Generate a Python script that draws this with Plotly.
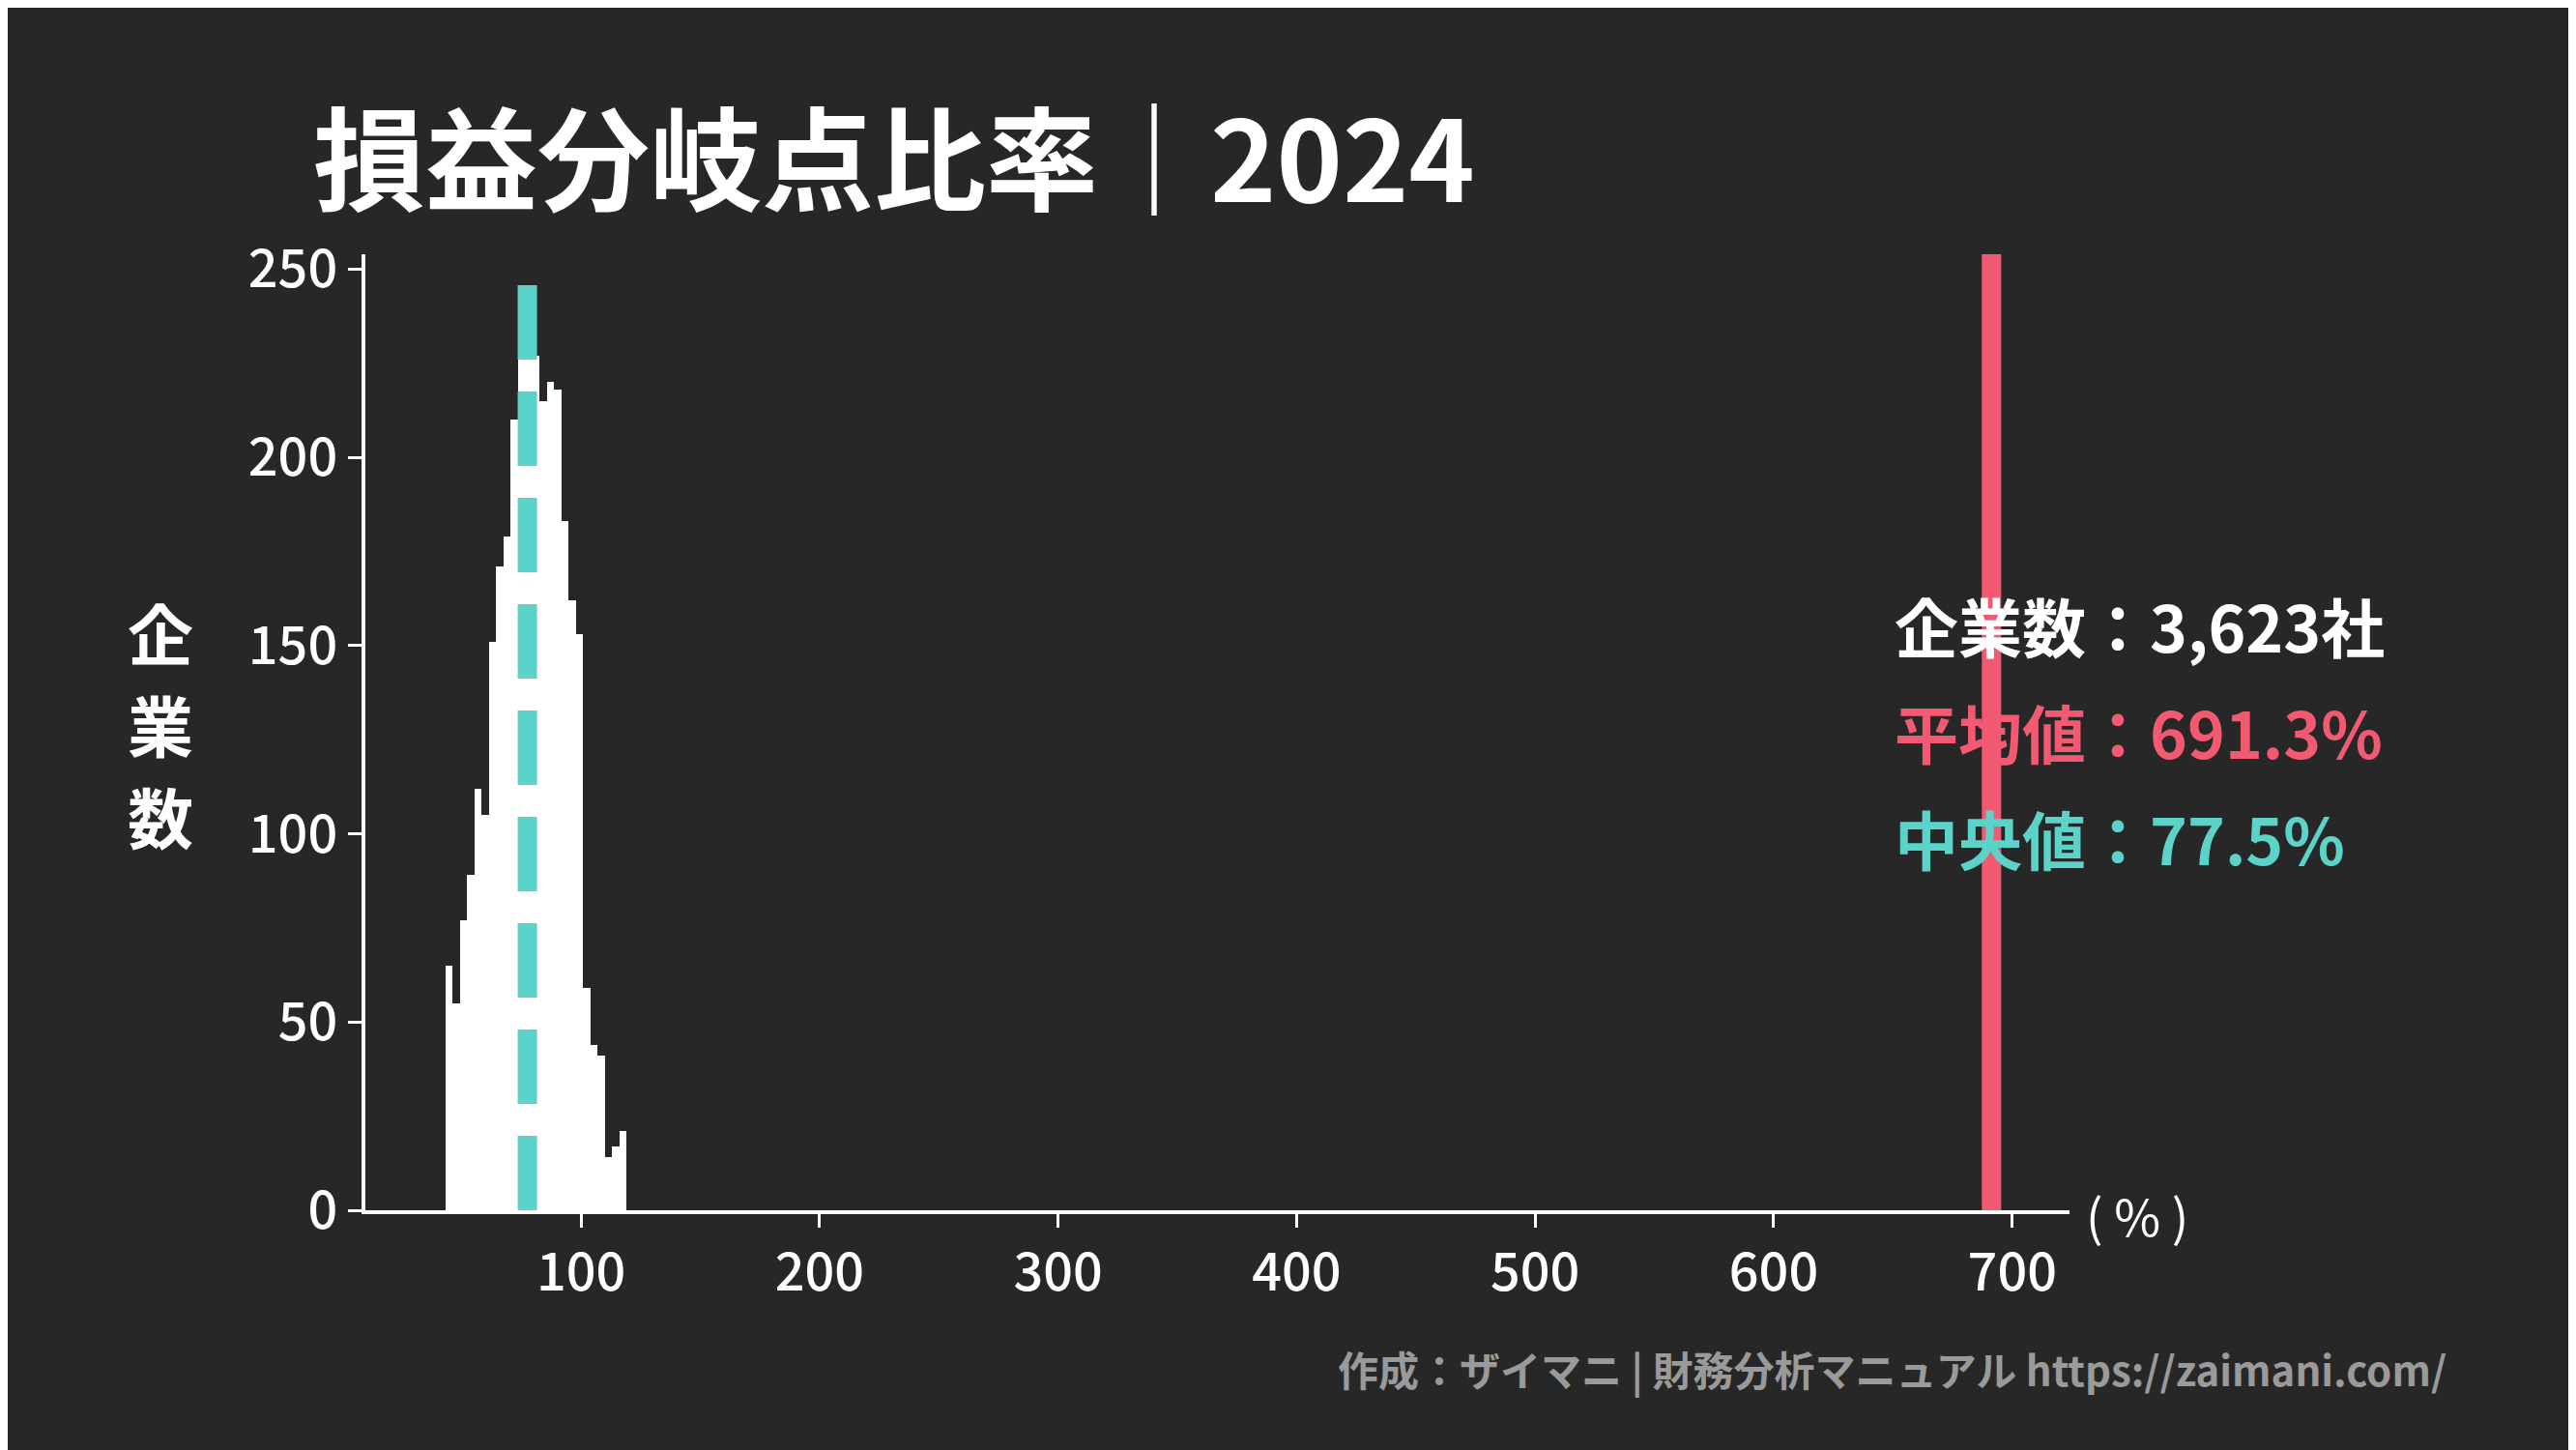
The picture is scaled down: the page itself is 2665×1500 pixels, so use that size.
import plotly.graph_objects as go

# histogram of break-even point ratio (%), bin width ~3.04
bin_start = 43.1
bin_width = 3.04
counts = [65, 55, 77, 89, 112, 105, 151, 171, 179, 210, 228, 230, 227,
          215, 220, 218, 183, 162, 153, 59, 44, 41, 14, 17, 21]
bin_centers = [bin_start + bin_width * (i + 0.5) for i in range(len(counts))]

n_companies = "3,623"
mean_val = 691.3
median_val = 77.5

x_ticks = [100, 200, 300, 400, 500, 600, 700]
y_ticks = [0, 50, 100, 150, 200, 250]

BG = "#272727"
RED = "#f25a72"
TEAL = "#5cd3c8"
FONT = "Noto Sans CJK JP"

W, H = 2665, 1500
L, R, T, B = 370, 532, 255, 256
PW, PH = W - L - R, H - T - B


def px(x):
    return (x - L) / PW


def py(y):
    return (H - B - y) / PH


fig = go.Figure()
fig.add_trace(go.Bar(x=bin_centers, y=counts, width=bin_width,
                     marker=dict(color="white", line=dict(width=0)),
                     showlegend=False))
fig.add_trace(go.Scatter(x=[mean_val, mean_val], y=[0, 254], mode="lines",
                         line=dict(color=RED, width=20), showlegend=False))
fig.add_trace(go.Scatter(x=[median_val, median_val], y=[0, 246], mode="lines",
                         line=dict(color=TEAL, width=20, dash="77px,33px"),
                         showlegend=False))

ann = [
    dict(text="<b>損益分岐点比率｜2024</b>", x=px(314), y=py(150), size=116,
         color="white", xanchor="left"),
    dict(text="<b>企</b>", x=px(158), y=py(645), size=68, color="white", xanchor="center"),
    dict(text="<b>業</b>", x=px(158), y=py(740), size=68, color="white", xanchor="center"),
    dict(text="<b>数</b>", x=px(158), y=py(835), size=68, color="white", xanchor="center"),
    dict(text="( % )", x=px(2148), y=py(1248), size=52,
         color="white", xanchor="left"),
    dict(text="<b>企業数：" + n_companies + "社</b>", x=px(1950), y=py(638), size=66,
         color="white", xanchor="left"),
    dict(text="<b>平均値：%.1f%%</b>" % mean_val, x=px(1950), y=py(748), size=66,
         color=RED, xanchor="left"),
    dict(text="<b>中央値：%.1f%%</b>" % median_val, x=px(1950), y=py(858), size=66,
         color=TEAL, xanchor="left"),
    dict(text="<b>作成：ザイマニ | 財務分析マニュアル https://zaimani.com/</b>",
         x=px(2525), y=py(1407), size=42, color="#9a9a9a", xanchor="right"),
]
for a in ann:
    fig.add_annotation(text=a["text"], x=a["x"], y=a["y"], xref="paper",
                       yref="paper", xanchor=a["xanchor"], yanchor="middle",
                       showarrow=False, align="center",
                       font=dict(family=FONT, size=a["size"], color=a["color"]))

fig.update_layout(
    width=W, height=H,
    paper_bgcolor=BG, plot_bgcolor=BG,
    margin=dict(l=L, r=R, t=T, b=B),
    bargap=0,
    font=dict(family=FONT, color="white", size=50),
    xaxis=dict(range=[9.6, 724], tickvals=x_ticks, showgrid=False,
               zeroline=False, showline=True, linecolor="white", linewidth=4,
               ticks="outside", ticklen=14, tickwidth=3, tickcolor="white",
               tickfont=dict(size=54, weight=500)),
    yaxis=dict(range=[0, 254], tickvals=y_ticks, showgrid=False,
               zeroline=False, showline=True, linecolor="white", linewidth=4,
               ticks="outside", ticklen=14, tickwidth=3, tickcolor="white",
               tickfont=dict(size=54, weight=500)),
)

fig.write_html("out.html")
